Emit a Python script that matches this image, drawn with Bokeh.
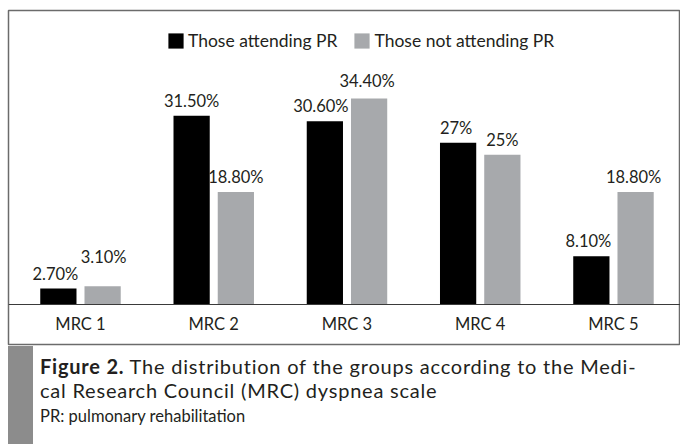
import numpy as np
from bokeh.plotting import figure
from bokeh.models import (ColumnDataSource, Range1d, FixedTicker, Legend,
                          LegendItem, Div)
from bokeh.layouts import column
from bokeh.core.properties import value
from bokeh.transform import dodge
from bokeh.embed import file_html
from bokeh.resources import INLINE

# ---------------- data ----------------
categories = ["MRC 1", "MRC 2", "MRC 3", "MRC 4", "MRC 5"]
attending = [2.7, 31.5, 30.6, 27.0, 8.1]
not_attending = [3.1, 18.8, 34.4, 25.0, 18.8]
attending_labels = ["2.70%", "31.50%", "30.60%", "27%", "8.10%"]
not_attending_labels = ["3.10%", "18.80%", "34.40%", "25%", "18.80%"]
series_names = ["Those attending PR", "Those not attending PR"]
caption_bold = "Figure 2."
caption_line1 = " The distribution of the groups according to the Medi-"
caption_line2 = "cal Research Council (MRC) dyspnea scale"
caption_note = "PR: pulmonary rehabilitation"

# ---------------- style ----------------
FONT = "Lato"
TEXT_COLOR = "#231f20"
BLACK = "#000000"
GRAY = "#a7a9ac"
BAR_W = 0.272
DODGE = 0.166
LABEL_GAP = -15
# manual label nudges (pixels), as in the original layout
att_dx = [-3, 0, -4, -2, -3]
att_dy = [0, 0, 0, 0, 0]
nat_dx = [1, 0, -2, 0, -2]
nat_dy = [-14, 0, -2, 0, 0]

pos = np.arange(len(categories))
src = ColumnDataSource(dict(
    idx=pos, cat=categories,
    att=attending, nat=not_attending,
    att_lbl=attending_labels, nat_lbl=not_attending_labels,
    att_dx=att_dx, att_dy=[d + LABEL_GAP for d in att_dy],
    nat_dx=nat_dx, nat_dy=[d + LABEL_GAP for d in nat_dy],
))

p = figure(width=680, height=346,
           x_range=Range1d(-0.5403, 4.503), y_range=Range1d(-6.62, 49.05),
           output_backend="svg", toolbar_location=None,
           x_axis_location="below", y_axis_location=None,
           min_border_left=8, min_border_right=0,
           min_border_top=10, min_border_bottom=2)
p.margin = (0, 0, 0, 0)
p.grid.visible = False
p.outline_line_color = "#6b6b6b"
p.outline_line_width = 1.5
p.background_fill_color = "white"
p.border_fill_color = "white"

r1 = p.vbar(x=dodge("idx", -DODGE, range=p.x_range), top="att", width=BAR_W,
            bottom=0, source=src, fill_color=BLACK, line_color=None)
r2 = p.vbar(x=dodge("idx", DODGE, range=p.x_range), top="nat", width=BAR_W,
            bottom=0, source=src, fill_color=GRAY, line_color=None)

common = dict(text_font=value(FONT), text_font_size="16.5px",
              text_color=TEXT_COLOR, text_align="center",
              text_baseline="alphabetic", source=src)
p.text(x=dodge("idx", -DODGE, range=p.x_range), y="att", text="att_lbl",
       x_offset="att_dx", y_offset="att_dy", **common)
p.text(x=dodge("idx", DODGE, range=p.x_range), y="nat", text="nat_lbl",
       x_offset="nat_dx", y_offset="nat_dy", **common)

ax = p.xaxis[0]
ax.fixed_location = 0
ax.ticker = FixedTicker(ticks=[float(i) for i in pos])
ax.major_label_overrides = {int(i): c for i, c in zip(pos, categories)}
ax.major_tick_line_color = None
ax.minor_tick_line_color = None
ax.axis_line_color = "#3a3a3a"
ax.axis_line_width = 1
ax.major_label_standoff = 3
ax.major_label_text_font = FONT
ax.major_label_text_font_size = "16.5px"
ax.major_label_text_color = TEXT_COLOR

legend = Legend(items=[LegendItem(label=series_names[0], renderers=[r1]),
                       LegendItem(label=series_names[1], renderers=[r2])],
                orientation="horizontal", location=(158, 293),
                glyph_width=19, glyph_height=19, label_standoff=3,
                spacing=15, padding=0, margin=0,
                border_line_color=None, background_fill_alpha=0,
                label_text_font=FONT, label_text_font_size="17.5px",
                label_text_color=TEXT_COLOR)
p.add_layout(legend)

html = f"""
<div style="position:relative;width:680px;height:98px;font-family:'{FONT}';color:{TEXT_COLOR};background:white;">
  <div style="position:absolute;left:8px;top:0;width:25px;height:98px;background:#8c8c8c;"></div>
  <div style="position:absolute;left:40px;top:8px;font-size:20px;line-height:24px;letter-spacing:0.78px;white-space:nowrap;">
    <b>{caption_bold}</b>{caption_line1}<br>{caption_line2}
  </div>
  <div style="position:absolute;left:40px;top:60px;font-size:16.5px;line-height:20px;white-space:nowrap;">{caption_note}</div>
</div>
"""
cap = Div(text=html, width=680, height=98, margin=(0, 0, 0, 0))

layout = column(p, cap, spacing=0, margin=(0, 0, 0, 0))
open("out.html", "w").write(file_html(layout, INLINE))
